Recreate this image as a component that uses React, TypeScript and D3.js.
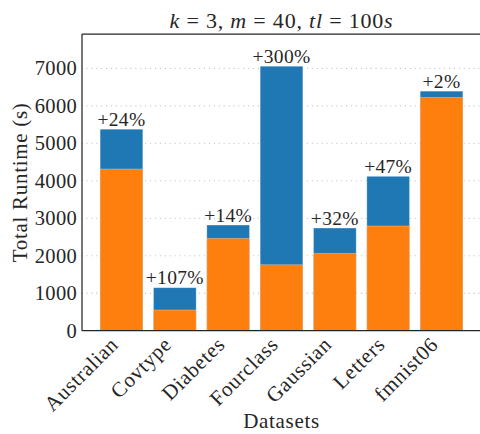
import React, { useEffect, useRef } from 'react';
import * as d3 from 'd3';

const datasets = ['Australian', 'Covtype', 'Diabetes', 'Fourclass', 'Gaussian', 'Letters', 'fmnist06'];
const baseRuntime = [4313, 552, 2464, 1760, 2064, 2793, 6225];
const totalRuntime = [5375, 1147, 2819, 7055, 2739, 4118, 6390];
const increaseLabels = ['+24%', '+107%', '+14%', '+300%', '+32%', '+47%', '+2%'];
const yTicks = [0, 1000, 2000, 3000, 4000, 5000, 6000, 7000];

const W = 480;
const H = 434;
const FONT = '"Liberation Serif", "Times New Roman", serif';
const TEXT = '#262626';

function App() {
  const svgRef = useRef<SVGSVGElement>(null);

  useEffect(() => {
    const left = 82, right = 481, top = 34, bottom = 330.7;
    const svg = d3.select(svgRef.current);
    svg.selectAll('*').remove();

    const x = d3.scaleBand<string>()
      .domain(datasets)
      .range([left, right])
      .paddingInner(0.2)
      .paddingOuter(0.34);
    const y = d3.scaleLinear().domain([0, 7915]).range([bottom, top]);

    // grid
    svg.append('g')
      .selectAll('line')
      .data(yTicks.filter(d => d > 0))
      .join('line')
      .attr('x1', left).attr('x2', right)
      .attr('y1', d => y(d)).attr('y2', d => y(d))
      .attr('stroke', '#bdbdbd')
      .attr('stroke-width', 1.2)
      .attr('stroke-linecap', 'round')
      .attr('stroke-dasharray', '0.1,4.8');

    const rows = datasets.map((name, i) => ({
      name, base: baseRuntime[i], total: totalRuntime[i], label: increaseLabels[i],
    }));

    // blue (total)
    svg.append('g')
      .selectAll('rect')
      .data(rows)
      .join('rect')
      .attr('x', d => x(d.name)!)
      .attr('width', x.bandwidth())
      .attr('y', d => y(d.total))
      .attr('height', d => y(0) - y(d.total))
      .attr('fill', '#1f77b4')
      .attr('stroke', '#ffffff')
      .attr('stroke-opacity', 0.35)
      .attr('stroke-width', 0.8);

    // orange (base)
    svg.append('g')
      .selectAll('rect')
      .data(rows)
      .join('rect')
      .attr('x', d => x(d.name)!)
      .attr('width', x.bandwidth())
      .attr('y', d => y(d.base))
      .attr('height', d => y(0) - y(d.base))
      .attr('fill', '#ff7f0e')
      .attr('stroke', '#ffffff')
      .attr('stroke-opacity', 0.35)
      .attr('stroke-width', 0.8);

    // annotations
    svg.append('g')
      .selectAll('text')
      .data(rows)
      .join('text')
      .attr('x', d => x(d.name)! + x.bandwidth() / 2)
      .attr('y', d => y(d.total) - 3.5)
      .attr('text-anchor', 'middle')
      .style('font-family', FONT)
      .style('font-size', '19.5px')
      .style('letter-spacing', '0.3px')
      .attr('fill', TEXT)
      .text(d => d.label);

    // spines
    const sp = svg.append('g').attr('stroke', TEXT).attr('stroke-width', 1.25).attr('fill', 'none');
    sp.append('line').attr('x1', left).attr('x2', left).attr('y1', top).attr('y2', bottom);
    sp.append('line').attr('x1', left).attr('x2', right).attr('y1', bottom).attr('y2', bottom);
    sp.append('line').attr('x1', left).attr('x2', right).attr('y1', top).attr('y2', top);
    sp.append('line').attr('x1', right).attr('x2', right).attr('y1', top).attr('y2', bottom);

    // y tick labels
    svg.append('g')
      .selectAll('text')
      .data(yTicks)
      .join('text')
      .attr('x', left - 5)
      .attr('y', d => y(d) + 7)
      .attr('text-anchor', 'end')
      .style('font-family', FONT)
      .style('font-size', '20.5px')
      .style('letter-spacing', '0.3px')
      .attr('fill', TEXT)
      .text(d => String(d));

    // x tick labels
    svg.append('g')
      .selectAll('text')
      .data(datasets)
      .join('text')
      .attr('transform', d => `translate(${x(d)! + x.bandwidth() / 2 - 2},${bottom + 15}) rotate(-45)`)
      .attr('text-anchor', 'end')
      .style('font-family', FONT)
      .style('font-size', '21px')
      .style('letter-spacing', '0.7px')
      .attr('fill', TEXT)
      .text(d => d);

    // axis labels
    svg.append('text')
      .attr('x', (left + right) / 2)
      .attr('y', 428)
      .attr('text-anchor', 'middle')
      .style('font-family', FONT)
      .style('font-size', '21px')
      .style('letter-spacing', '0.7px')
      .attr('fill', TEXT)
      .text('Datasets');

    svg.append('text')
      .attr('transform', `translate(27,${(top + bottom) / 2}) rotate(-90)`)
      .attr('text-anchor', 'middle')
      .style('font-family', FONT)
      .style('font-size', '21px')
      .style('letter-spacing', '0.7px')
      .attr('fill', TEXT)
      .text('Total Runtime (s)');

    // title
    const title = svg.append('text')
      .attr('x', (left + right) / 2)
      .attr('y', 28)
      .attr('text-anchor', 'middle')
      .style('font-family', FONT)
      .style('font-size', '22px')
      .style('letter-spacing', '0.8px')
      .attr('fill', TEXT);
    const parts: [string, boolean][] = [
      ['k', true], [' = 3, ', false], ['m', true], [' = 40, ', false],
      ['tl', true], [' = 100', false], ['s', true],
    ];
    parts.forEach(([t, it]) => {
      title.append('tspan').style('font-style', it ? 'italic' : 'normal').text(t);
    });
  }, []);

  return (
    <svg
      ref={svgRef}
      width={W}
      height={H}
      style={{ position: 'absolute', left: 0, top: 0, background: '#fff' }}
    />
  );
}

export default App;
